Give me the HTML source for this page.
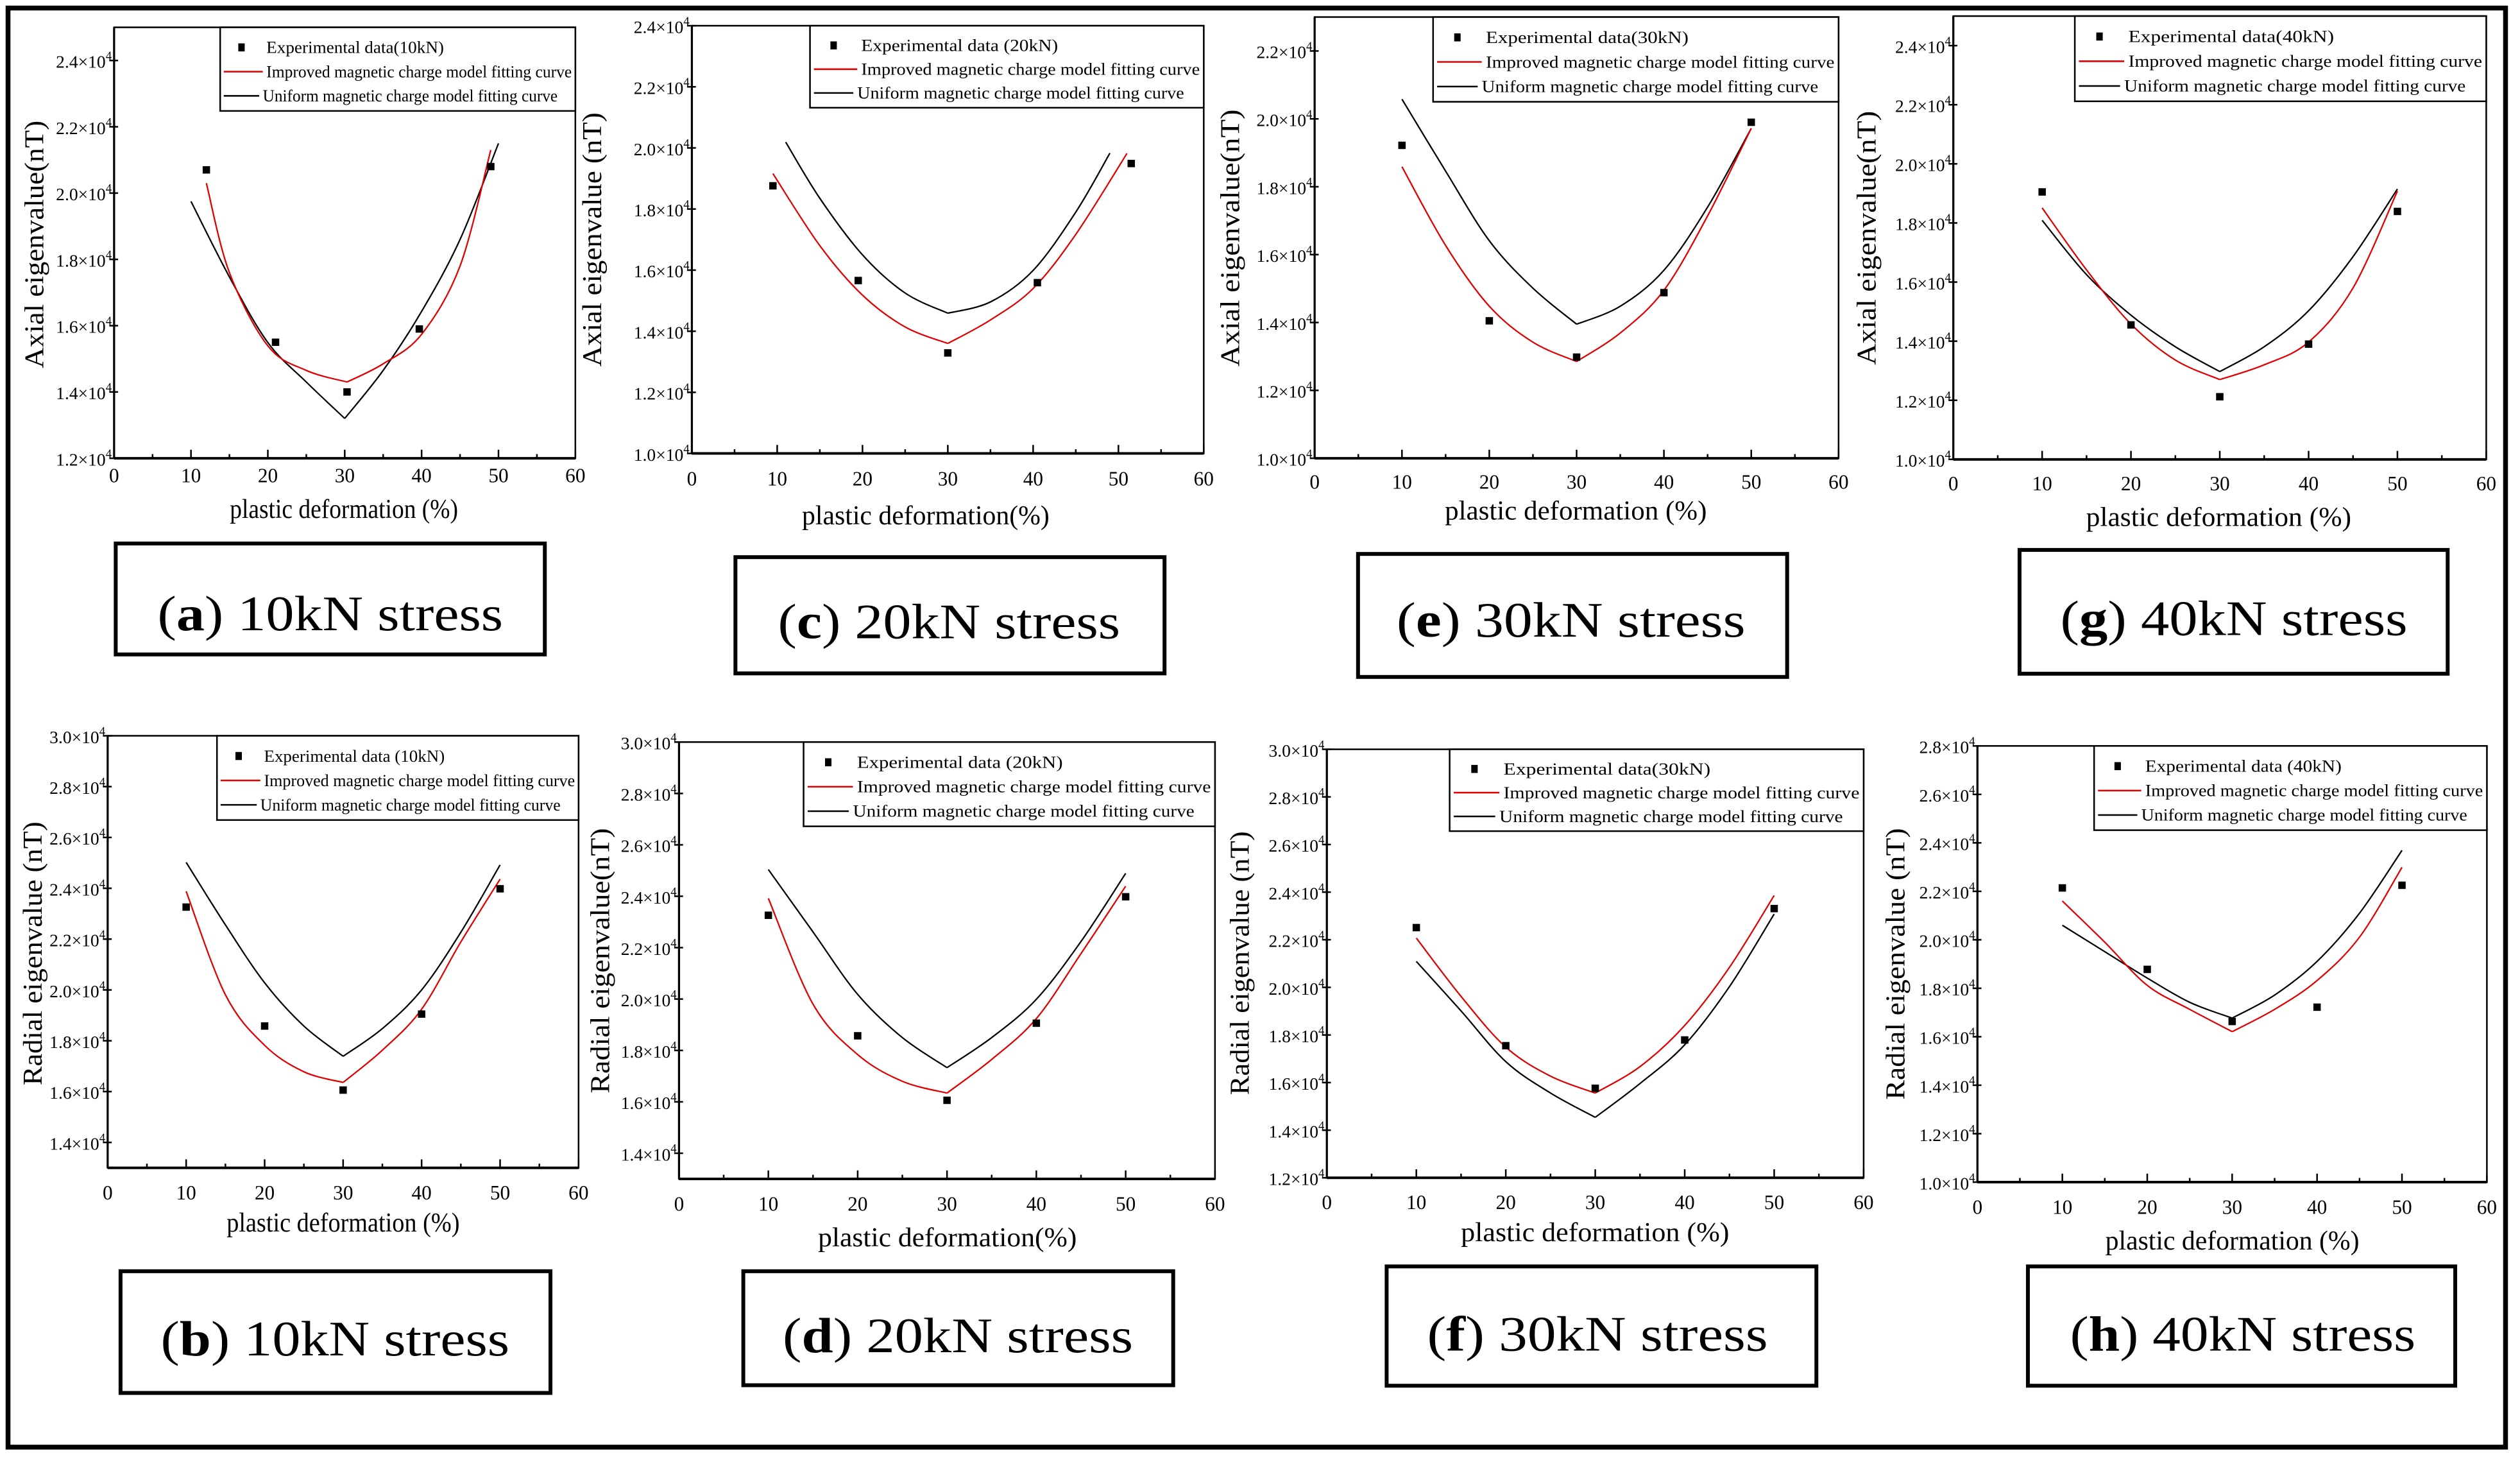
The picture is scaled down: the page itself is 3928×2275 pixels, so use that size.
<!DOCTYPE html>
<html><head><meta charset="utf-8"><style>
html,body{margin:0;padding:0;background:#fff;}
svg{display:block;}
text{font-family:"Liberation Serif",serif;fill:#000;}
</style></head><body>
<svg id="fig" xmlns="http://www.w3.org/2000/svg" width="3928" height="2275" viewBox="0 0 1568 908" preserveAspectRatio="none">
<rect x="5" y="5" width="1554" height="895" fill="#fff" stroke="#000" stroke-width="3"/>
</svg>
<script>
// ---- data (values in units of 10^4 nT) ----
const xTicks = [0,10,20,30,40,50,60];
const aPtsX=[12,21,30.3,39.7,49], aPtsY=[2.07,1.55,1.40,1.59,2.08];
const aRedX=[12,15,20,25,30.3,35,40,45,49], aRedY=[2.03,1.76,1.539,1.465,1.43,1.485,1.574,1.78,2.13];
const aBlkX=[10,15,20,25,30,35,40,45,50], aBlkY=[1.975,1.747,1.549,1.43,1.32,1.465,1.643,1.86,2.15];
const aYTicks=[1.2,1.4,1.6,1.8,2.0,2.2,2.4];
const cPtsX=[9.5,19.5,30,40.5,51.5], cPtsY=[1.876,1.566,1.329,1.559,1.949];
const cRedX=[9.5,15,20,25,30,35,40,45,51], cRedY=[1.916,1.68,1.518,1.414,1.36,1.437,1.54,1.717,1.982];
const cBlkX=[11,15,20,25,30,35,40,45,49], cBlkY=[2.019,1.835,1.65,1.525,1.459,1.496,1.599,1.79,1.983];
const cYTicks=[1.0,1.2,1.4,1.6,1.8,2.0,2.2,2.4];
const stdX=[10,15,20,25,30,35,40,45,50], ptsX=[10,20,30,40,50];
const ePtsY=[1.922,1.405,1.298,1.488,1.99];
const eRedY=[1.859,1.627,1.448,1.342,1.285,1.369,1.495,1.714,1.972];
const eBlkY=[2.058,1.846,1.641,1.501,1.395,1.448,1.554,1.74,1.972];
const eYTicks=[1.0,1.2,1.4,1.6,1.8,2.0,2.2];
const gPtsY=[1.905,1.455,1.212,1.39,1.839];
const gRedY=[1.851,1.641,1.458,1.336,1.27,1.32,1.397,1.58,1.908];
const gBlkY=[1.809,1.625,1.488,1.381,1.297,1.381,1.503,1.686,1.915];
const gYTicks=[1.0,1.2,1.4,1.6,1.8,2.0,2.2,2.4];
const bPtsY=[2.326,1.858,1.606,1.905,2.398];
const bRedY=[2.388,1.981,1.782,1.678,1.636,1.763,1.924,2.189,2.436];
const bBlkY=[2.502,2.256,2.028,1.858,1.739,1.848,2.0,2.227,2.492];
const bYTicks=[1.4,1.6,1.8,2.0,2.2,2.4,2.6,2.8,3.0];
const dPtsY=[2.326,1.857,1.606,1.906,2.398];
const dRedY=[2.392,1.98,1.784,1.68,1.634,1.765,1.924,2.177,2.439];
const dBlkY=[2.504,2.261,2.018,1.85,1.733,1.85,1.999,2.224,2.489];
const dYTicks=[1.4,1.6,1.8,2.0,2.2,2.4,2.6,2.8,3.0];
const fPtsY=[2.251,1.755,1.576,1.779,2.331];
const fRedY=[2.207,1.962,1.749,1.627,1.556,1.667,1.84,2.084,2.386];
const fBlkY=[2.109,1.901,1.688,1.556,1.454,1.596,1.759,2.003,2.308];
const fYTicks=[1.2,1.4,1.6,1.8,2.0,2.2,2.4,2.6,2.8,3.0];
const hPtsY=[2.214,1.878,1.663,1.722,2.225];
const hRedY=[2.16,1.99,1.812,1.713,1.621,1.713,1.832,2.011,2.299];
const hBlkY=[2.06,1.951,1.842,1.742,1.677,1.772,1.911,2.11,2.369];
const hYTicks=[1.0,1.2,1.4,1.6,1.8,2.0,2.2,2.4,2.6,2.8];

const NS="http://www.w3.org/2000/svg";
const svg=document.getElementById('fig');
function mk(tag,attrs,parent){const e=document.createElementNS(NS,tag);for(const k in attrs)e.setAttribute(k,attrs[k]);(parent||svg).appendChild(e);return e;}

const panels=[
 {id:'a',L:71,R:358,T:17,B:285,ymin:1.2,ymax:2.5,yt:aYTicks,px:aPtsX,py:aPtsY,rx:aRedX,ry:aRedY,kx:aBlkX,ky:aBlkY,
  yTitle:'Axial eigenvalue(nT)',ytx:21,yty0:75,yty1:229,xTitle:'plastic deformation (%)',xtB:322,xt0:143,xt1:285,tickB:300,
  leg:[137,17,221,52],exp:'Experimental data(10kN)',cap:[72,338,267,69],capT:'a',capKN:'10kN',capX0:98,capX1:313,capB:392},
 {id:'c',L:430.5,R:749,T:16,B:282,ymin:1.0,ymax:2.4,yt:cYTicks,px:cPtsX,py:cPtsY,rx:cRedX,ry:cRedY,kx:cBlkX,ky:cBlkY,
  yTitle:'Axial eigenvalue (nT)',ytx:368,yty0:70,yty1:228,xTitle:'plastic deformation(%)',xtB:326,xt0:499,xt1:653,tickB:302,
  leg:[504,16,245,51],exp:'Experimental data (20kN)',cap:[457.6,346.5,267,72.3],capT:'c',capKN:'20kN',capX0:484,capX1:697,capB:397},
 {id:'e',L:818,R:1144,T:10.6,B:285,ymin:1.0,ymax:2.3,yt:eYTicks,px:ptsX,py:ePtsY,rx:stdX,ry:eRedY,kx:stdX,ky:eBlkY,
  yTitle:'Axial eigenvalue(nT)',ytx:765,yty0:68,yty1:228,xTitle:'plastic deformation (%)',xtB:323,xt0:899,xt1:1062,tickB:304,
  leg:[891.7,10.6,252.3,52.7],exp:'Experimental data(30kN)',cap:[845,344.5,267,76.5],capT:'e',capKN:'30kN',capX0:869,capX1:1086,capB:396},
 {id:'g',L:1215.4,R:1547,T:10,B:285.7,ymin:1.0,ymax:2.5,yt:gYTicks,px:ptsX,py:gPtsY,rx:stdX,ry:gRedY,kx:stdX,ky:gBlkY,
  yTitle:'Axial eigenvalue(nT)',ytx:1161,yty0:69,yty1:227,xTitle:'plastic deformation (%)',xtB:327,xt0:1298,xt1:1463,tickB:305,
  leg:[1291,10,256,53],exp:'Experimental data(40kN)',cap:[1256.6,342,266.4,77],capT:'g',capKN:'40kN',capX0:1282,capX1:1498,capB:395},
 {id:'b',L:67,R:360,T:457.6,B:726.3,ymin:1.3,ymax:3.0,yt:bYTicks,px:ptsX,py:bPtsY,rx:stdX,ry:bRedY,kx:stdX,ky:bBlkY,
  yTitle:'Radial eigenvalue (nT)',ytx:20,yty0:511,yty1:675,xTitle:'plastic deformation (%)',xtB:766,xt0:141,xt1:286,tickB:746,
  leg:[135,457.6,225,52.4],exp:'Experimental data (10kN)',cap:[75,790.6,267.5,75.7],capT:'b',capKN:'10kN',capX0:100,capX1:317,capB:843},
 {id:'d',L:422.5,R:756,T:461.5,B:733.2,ymin:1.3,ymax:3.0,yt:dYTicks,px:ptsX,py:dPtsY,rx:stdX,ry:dRedY,kx:stdX,ky:dBlkY,
  yTitle:'Radial eigenvalue(nT)',ytx:373,yty0:515,yty1:680,xTitle:'plastic deformation(%)',xtB:775,xt0:509,xt1:670,tickB:753,
  leg:[500,461.5,256,52.4],exp:'Experimental data (20kN)',cap:[462.5,790.6,267.5,70.9],capT:'d',capKN:'20kN',capX0:487,capX1:705,capB:841},
 {id:'f',L:825.6,R:1159.6,T:466,B:732.5,ymin:1.2,ymax:3.0,yt:fYTicks,px:ptsX,py:fPtsY,rx:stdX,ry:fRedY,kx:stdX,ky:fBlkY,
  yTitle:'Radial eigenvalue (nT)',ytx:771,yty0:517,yty1:681,xTitle:'plastic deformation (%)',xtB:772,xt0:909,xt1:1076,tickB:752,
  leg:[902,466,257.6,50.9],exp:'Experimental data(30kN)',cap:[862.8,787.6,267.4,74.2],capT:'f',capKN:'30kN',capX0:888,capX1:1100,capB:840},
 {id:'h',L:1230.4,R:1547.4,T:463.9,B:735.2,ymin:1.0,ymax:2.8,yt:hYTicks,px:ptsX,py:hPtsY,rx:stdX,ry:hRedY,kx:stdX,ky:hBlkY,
  yTitle:'Radial eigenvalue (nT)',ytx:1179,yty0:515,yty1:684,xTitle:'plastic deformation (%)',xtB:777,xt0:1310,xt1:1468,tickB:755,
  leg:[1303,463.9,244.4,52.4],exp:'Experimental data (40kN)',cap:[1261.8,787.6,265.9,74.2],capT:'h',capKN:'40kN',capX0:1288,capX1:1503,capB:840}
];

function smoothPath(pts){
  if(pts.length<2)return '';
  let d='M'+pts[0][0].toFixed(2)+','+pts[0][1].toFixed(2);
  for(let i=0;i<pts.length-1;i++){
    const p0=pts[Math.max(0,i-1)],p1=pts[i],p2=pts[i+1],p3=pts[Math.min(pts.length-1,i+2)];
    const c1=[p1[0]+(p2[0]-p0[0])/6,p1[1]+(p2[1]-p0[1])/6];
    const c2=[p2[0]-(p3[0]-p1[0])/6,p2[1]-(p3[1]-p1[1])/6];
    d+=' C'+c1[0].toFixed(2)+','+c1[1].toFixed(2)+' '+c2[0].toFixed(2)+','+c2[1].toFixed(2)+' '+p2[0].toFixed(2)+','+p2[1].toFixed(2);
  }
  return d;
}
function curvePath(xs,ys,sx,sy){
  let m=0;for(let i=1;i<ys.length;i++)if(ys[i]<ys[m])m=i;
  const pts=xs.map((x,i)=>[sx(x),sy(ys[i])]);
  return smoothPath(pts.slice(0,m+1))+' '+smoothPath(pts.slice(m));
}

panels.forEach(p=>{
  const g=mk('g',{});
  
  
  const sx=v=>p.L+(v-0)/(60-0)*(p.R-p.L);
  const sy=v=>p.B-(v-p.ymin)/(p.ymax-p.ymin)*(p.B-p.T);
  const fr=mk('rect',{x:p.L,y:p.T,width:p.R-p.L,height:p.B-p.T,fill:'none',stroke:'#000','stroke-width':1},g);
  
  
  const xa=mk('line',{x1:p.L,x2:p.R,y1:p.B,y2:p.B,stroke:'#000','stroke-width':1.6},g);
  
  
  const ya=mk('line',{x1:p.L,x2:p.L,y1:p.T,y2:p.B,stroke:'#000','stroke-width':1.3},g);
  
  
  for(let v=5;v<60;v+=10){
    mk('line',{x1:sx(v),x2:sx(v),y1:p.B,y2:p.B-2.6,stroke:'#000','stroke-width':1},g);
  }
  xTicks.forEach(v=>{
    mk('line',{x1:sx(v),x2:sx(v),y1:p.B,y2:p.B-5.3,stroke:'#000','stroke-width':1},g);
    const t=mk('text',{x:sx(v),y:p.tickB,'text-anchor':'middle','font-size':12.5},g);
    t.textContent=String(v);
    
    
  });
  p.yt.forEach(v=>{
    const y=sy(v);
    mk('line',{x1:p.L,x2:p.L-3,y1:y,y2:y,stroke:'#000','stroke-width':1},g);
    mk('line',{x1:p.L,x2:p.L+2.5,y1:y,y2:y,stroke:'#000','stroke-width':1},g);
    const t=mk('text',{x:p.L-1.5,y:y+4.5,'text-anchor':'end','font-size':11},g);
    
    
    const a=mk('tspan',{},t);a.textContent=v.toFixed(1)+'\u00d710';
    const s=mk('tspan',{dy:-5,'font-size':7.5},t);s.textContent='4';
  });
  const yt=mk('text',{x:0,y:0,'text-anchor':'middle','font-size':17,transform:'translate('+(p.ytx+6)+','+((p.yty0+p.yty1)/2)+') rotate(-90)',textLength:(p.yty1-p.yty0),lengthAdjust:'spacingAndGlyphs'},g);
  yt.textContent=p.yTitle;
  
  
  const xt=mk('text',{x:p.xt0,y:p.xtB,'font-size':17,textLength:(p.xt1-p.xt0),lengthAdjust:'spacingAndGlyphs'},g);
  xt.textContent=p.xTitle;
  
  
  // curves
  const kp=mk('path',{d:curvePath(p.kx,p.ky,sx,sy),fill:'none',stroke:'#000','stroke-width':0.9},g);
  
  
  const rp=mk('path',{d:curvePath(p.rx,p.ry,sx,sy),fill:'none',stroke:'#e00000','stroke-width':0.9},g);
  
  
  p.px.forEach((x,i)=>{
    const r=mk('rect',{x:sx(x)-2.3,y:sy(p.py[i])-2.3,width:4.6,height:4.6,fill:'#000'},g);
    
    
  });
  // legend
  const [lx,ly,lw,lh]=p.leg;
  const lg=mk('g',{},g);
  
  
  mk('rect',{x:lx,y:ly,width:lw,height:lh,fill:'#fff',stroke:'#000','stroke-width':1},lg);
  const r1=ly+lh*0.24,r2=ly+lh*0.53,r3=ly+lh*0.82;
  mk('rect',{x:lx+lw*0.06-2,y:r1-2.5,width:4,height:5,fill:'#000'},lg);
  const e1=mk('text',{x:lx+lw*0.13,y:r1+3.5,'font-size':10.5,textLength:lw*0.5,lengthAdjust:'spacingAndGlyphs'},lg);
  e1.textContent=p.exp;
  
  
  mk('line',{x1:lx+lw*0.01,x2:lx+lw*0.12,y1:r2,y2:r2,stroke:'#e00000','stroke-width':1},lg);
  const e2=mk('text',{x:lx+lw*0.13,y:r2+3.5,'font-size':10.5,textLength:lw*0.86,lengthAdjust:'spacingAndGlyphs'},lg);
  e2.textContent='Improved magnetic charge model fitting curve';
  
  
  mk('line',{x1:lx+lw*0.01,x2:lx+lw*0.11,y1:r3,y2:r3,stroke:'#000','stroke-width':1},lg);
  const e3=mk('text',{x:lx+lw*0.12,y:r3+3.5,'font-size':10.5,textLength:lw*0.83,lengthAdjust:'spacingAndGlyphs'},lg);
  e3.textContent='Uniform magnetic charge model fitting curve';
  
  
  // caption
  const [cx,cy,cw,ch]=p.cap;
  const cb=mk('rect',{x:cx,y:cy,width:cw,height:ch,fill:'#fff',stroke:'#000','stroke-width':2.4},g);
  
  
  const ct=mk('text',{x:p.capX0,y:p.capB,'font-size':31,textLength:(p.capX1-p.capX0),lengthAdjust:'spacingAndGlyphs'},g);
  
  
  const t1=mk('tspan',{},ct);t1.textContent='(';
  const t2=mk('tspan',{'font-weight':'bold'},ct);t2.textContent=p.capT;
  const t3=mk('tspan',{},ct);t3.textContent=') '+p.capKN+' stress';
});
</script>
</body></html>
